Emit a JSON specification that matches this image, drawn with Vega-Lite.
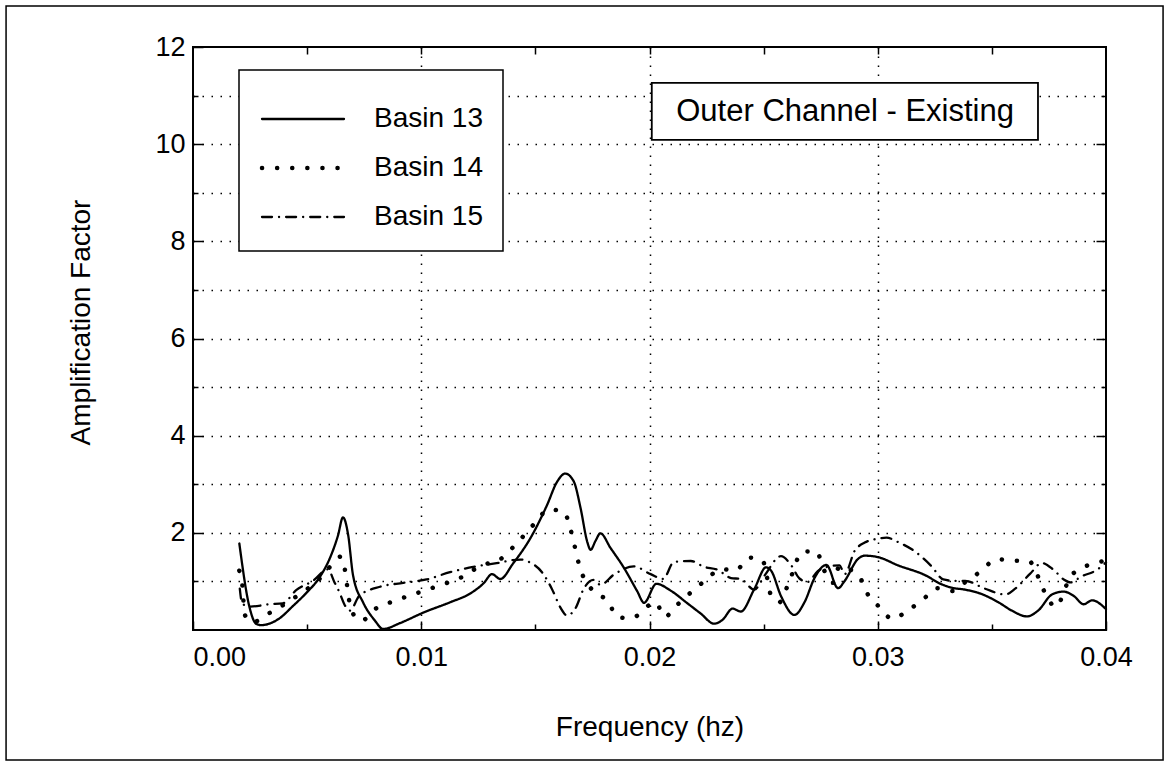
{
  "$schema": "https://vega.github.io/schema/vega-lite/v6.json",
  "width": 913,
  "height": 583,
  "autosize": "none",
  "padding": {"left": 193, "top": 47, "right": 70, "bottom": 144},
  "background": "white",
  "config": {
    "font": "Liberation Sans",
    "view": {"stroke": "black", "strokeWidth": 2},
    "legend": {"strokeWidth": 1.5}
  },
  "datasets": {
    "curves": [
      {"series": "Basin 13", "f": 0.00203, "v": 1.78},
      {"series": "Basin 13", "f": 0.00247, "v": 0.48},
      {"series": "Basin 13", "f": 0.00276, "v": 0.13},
      {"series": "Basin 13", "f": 0.00298, "v": 0.10},
      {"series": "Basin 13", "f": 0.00379, "v": 0.24},
      {"series": "Basin 13", "f": 0.00437, "v": 0.49},
      {"series": "Basin 13", "f": 0.00496, "v": 0.76},
      {"series": "Basin 13", "f": 0.00554, "v": 1.08},
      {"series": "Basin 13", "f": 0.00598, "v": 1.46},
      {"series": "Basin 13", "f": 0.00635, "v": 1.94},
      {"series": "Basin 13", "f": 0.00657, "v": 2.32},
      {"series": "Basin 13", "f": 0.0068, "v": 1.95},
      {"series": "Basin 13", "f": 0.00701, "v": 1.13},
      {"series": "Basin 13", "f": 0.00745, "v": 0.57},
      {"series": "Basin 13", "f": 0.00796, "v": 0.20},
      {"series": "Basin 13", "f": 0.00833, "v": 0.02},
      {"series": "Basin 13", "f": 0.00906, "v": 0.14},
      {"series": "Basin 13", "f": 0.0101, "v": 0.36},
      {"series": "Basin 13", "f": 0.01126, "v": 0.57},
      {"series": "Basin 13", "f": 0.01214, "v": 0.75},
      {"series": "Basin 13", "f": 0.01273, "v": 0.96},
      {"series": "Basin 13", "f": 0.0131, "v": 1.15},
      {"series": "Basin 13", "f": 0.01346, "v": 1.05},
      {"series": "Basin 13", "f": 0.01404, "v": 1.38},
      {"series": "Basin 13", "f": 0.01477, "v": 1.88},
      {"series": "Basin 13", "f": 0.01551, "v": 2.57},
      {"series": "Basin 13", "f": 0.01595, "v": 3.05},
      {"series": "Basin 13", "f": 0.01631, "v": 3.22},
      {"series": "Basin 13", "f": 0.01668, "v": 3.06},
      {"series": "Basin 13", "f": 0.01698, "v": 2.51},
      {"series": "Basin 13", "f": 0.01727, "v": 1.82},
      {"series": "Basin 13", "f": 0.01742, "v": 1.65},
      {"series": "Basin 13", "f": 0.01763, "v": 1.83},
      {"series": "Basin 13", "f": 0.01785, "v": 1.99},
      {"series": "Basin 13", "f": 0.01829, "v": 1.69},
      {"series": "Basin 13", "f": 0.01888, "v": 1.28},
      {"series": "Basin 13", "f": 0.01946, "v": 0.80},
      {"series": "Basin 13", "f": 0.01976, "v": 0.56},
      {"series": "Basin 13", "f": 0.0203, "v": 0.95},
      {"series": "Basin 13", "f": 0.02093, "v": 0.81},
      {"series": "Basin 13", "f": 0.02166, "v": 0.55},
      {"series": "Basin 13", "f": 0.02224, "v": 0.34},
      {"series": "Basin 13", "f": 0.02283, "v": 0.13},
      {"series": "Basin 13", "f": 0.0232, "v": 0.21},
      {"series": "Basin 13", "f": 0.02364, "v": 0.44},
      {"series": "Basin 13", "f": 0.024, "v": 0.38},
      {"series": "Basin 13", "f": 0.02459, "v": 0.84},
      {"series": "Basin 13", "f": 0.02511, "v": 1.29},
      {"series": "Basin 13", "f": 0.02533, "v": 1.22},
      {"series": "Basin 13", "f": 0.02576, "v": 0.70},
      {"series": "Basin 13", "f": 0.02635, "v": 0.31},
      {"series": "Basin 13", "f": 0.0268, "v": 0.58},
      {"series": "Basin 13", "f": 0.02723, "v": 1.07},
      {"series": "Basin 13", "f": 0.02775, "v": 1.34},
      {"series": "Basin 13", "f": 0.02826, "v": 0.86},
      {"series": "Basin 13", "f": 0.02855, "v": 1.01},
      {"series": "Basin 13", "f": 0.02913, "v": 1.46},
      {"series": "Basin 13", "f": 0.02943, "v": 1.53},
      {"series": "Basin 13", "f": 0.03001, "v": 1.50},
      {"series": "Basin 13", "f": 0.03089, "v": 1.33},
      {"series": "Basin 13", "f": 0.03207, "v": 1.13},
      {"series": "Basin 13", "f": 0.0328, "v": 0.94},
      {"series": "Basin 13", "f": 0.03324, "v": 0.87},
      {"series": "Basin 13", "f": 0.03383, "v": 0.83},
      {"series": "Basin 13", "f": 0.03455, "v": 0.74},
      {"series": "Basin 13", "f": 0.03529, "v": 0.57},
      {"series": "Basin 13", "f": 0.03587, "v": 0.40},
      {"series": "Basin 13", "f": 0.03654, "v": 0.28},
      {"series": "Basin 13", "f": 0.03705, "v": 0.41},
      {"series": "Basin 13", "f": 0.03763, "v": 0.73},
      {"series": "Basin 13", "f": 0.03815, "v": 0.79},
      {"series": "Basin 13", "f": 0.03859, "v": 0.70},
      {"series": "Basin 13", "f": 0.03902, "v": 0.53},
      {"series": "Basin 13", "f": 0.03939, "v": 0.61},
      {"series": "Basin 13", "f": 0.04, "v": 0.43},

      {"series": "Basin 14", "f": 0.00203, "v": 1.22},
      {"series": "Basin 14", "f": 0.00218, "v": 0.84},
      {"series": "Basin 14", "f": 0.00225, "v": 0.33},
      {"series": "Basin 14", "f": 0.00261, "v": 0.16},
      {"series": "Basin 14", "f": 0.00335, "v": 0.35},
      {"series": "Basin 14", "f": 0.00407, "v": 0.55},
      {"series": "Basin 14", "f": 0.00481, "v": 0.78},
      {"series": "Basin 14", "f": 0.00554, "v": 1.05},
      {"series": "Basin 14", "f": 0.00598, "v": 1.29},
      {"series": "Basin 14", "f": 0.00647, "v": 1.51},
      {"series": "Basin 14", "f": 0.00669, "v": 1.14},
      {"series": "Basin 14", "f": 0.00679, "v": 0.77},
      {"series": "Basin 14", "f": 0.00694, "v": 0.40},
      {"series": "Basin 14", "f": 0.00737, "v": 0.19},
      {"series": "Basin 14", "f": 0.00804, "v": 0.45},
      {"series": "Basin 14", "f": 0.00884, "v": 0.60},
      {"series": "Basin 14", "f": 0.00962, "v": 0.73},
      {"series": "Basin 14", "f": 0.01038, "v": 0.85},
      {"series": "Basin 14", "f": 0.01119, "v": 0.98},
      {"series": "Basin 14", "f": 0.01192, "v": 1.12},
      {"series": "Basin 14", "f": 0.01266, "v": 1.34},
      {"series": "Basin 14", "f": 0.01331, "v": 1.41},
      {"series": "Basin 14", "f": 0.01393, "v": 1.66},
      {"series": "Basin 14", "f": 0.01449, "v": 1.94},
      {"series": "Basin 14", "f": 0.01502, "v": 2.22},
      {"series": "Basin 14", "f": 0.01558, "v": 2.48},
      {"series": "Basin 14", "f": 0.01624, "v": 2.44},
      {"series": "Basin 14", "f": 0.01653, "v": 2.09},
      {"series": "Basin 14", "f": 0.01672, "v": 1.73},
      {"series": "Basin 14", "f": 0.0169, "v": 1.37},
      {"series": "Basin 14", "f": 0.01755, "v": 0.79},
      {"series": "Basin 14", "f": 0.01819, "v": 0.59},
      {"series": "Basin 14", "f": 0.01858, "v": 0.27},
      {"series": "Basin 14", "f": 0.01917, "v": 0.24},
      {"series": "Basin 14", "f": 0.02027, "v": 0.57},
      {"series": "Basin 14", "f": 0.02066, "v": 0.27},
      {"series": "Basin 14", "f": 0.02122, "v": 0.52},
      {"series": "Basin 14", "f": 0.02188, "v": 0.80},
      {"series": "Basin 14", "f": 0.02247, "v": 1.03},
      {"series": "Basin 14", "f": 0.02313, "v": 1.25},
      {"series": "Basin 14", "f": 0.02378, "v": 1.23},
      {"series": "Basin 14", "f": 0.02437, "v": 1.49},
      {"series": "Basin 14", "f": 0.02496, "v": 1.43},
      {"series": "Basin 14", "f": 0.02515, "v": 1.08},
      {"series": "Basin 14", "f": 0.02533, "v": 0.70},
      {"series": "Basin 14", "f": 0.02569, "v": 0.57},
      {"series": "Basin 14", "f": 0.02606, "v": 0.92},
      {"series": "Basin 14", "f": 0.02671, "v": 1.61},
      {"series": "Basin 14", "f": 0.0273, "v": 1.62},
      {"series": "Basin 14", "f": 0.02767, "v": 1.21},
      {"series": "Basin 14", "f": 0.02804, "v": 0.97},
      {"series": "Basin 14", "f": 0.02832, "v": 1.31},
      {"series": "Basin 14", "f": 0.02921, "v": 1.08},
      {"series": "Basin 14", "f": 0.02957, "v": 0.73},
      {"series": "Basin 14", "f": 0.03008, "v": 0.47},
      {"series": "Basin 14", "f": 0.03063, "v": 0.23},
      {"series": "Basin 14", "f": 0.03133, "v": 0.41},
      {"series": "Basin 14", "f": 0.03199, "v": 0.63},
      {"series": "Basin 14", "f": 0.03258, "v": 0.86},
      {"series": "Basin 14", "f": 0.03324, "v": 0.80},
      {"series": "Basin 14", "f": 0.0339, "v": 1.01},
      {"series": "Basin 14", "f": 0.03455, "v": 1.22},
      {"series": "Basin 14", "f": 0.03519, "v": 1.46},
      {"series": "Basin 14", "f": 0.03587, "v": 1.43},
      {"series": "Basin 14", "f": 0.03661, "v": 1.42},
      {"series": "Basin 14", "f": 0.03734, "v": 0.76},
      {"series": "Basin 14", "f": 0.03778, "v": 0.47},
      {"series": "Basin 14", "f": 0.03852, "v": 1.15},
      {"series": "Basin 14", "f": 0.04, "v": 1.43},

      {"series": "Basin 15", "f": 0.00205, "v": 0.85},
      {"series": "Basin 15", "f": 0.00215, "v": 0.55},
      {"series": "Basin 15", "f": 0.00246, "v": 0.48},
      {"series": "Basin 15", "f": 0.00335, "v": 0.53},
      {"series": "Basin 15", "f": 0.00394, "v": 0.55},
      {"series": "Basin 15", "f": 0.00452, "v": 0.82},
      {"series": "Basin 15", "f": 0.00525, "v": 1.01},
      {"series": "Basin 15", "f": 0.00591, "v": 1.25},
      {"series": "Basin 15", "f": 0.0062, "v": 0.98},
      {"series": "Basin 15", "f": 0.00642, "v": 0.77},
      {"series": "Basin 15", "f": 0.00665, "v": 0.51},
      {"series": "Basin 15", "f": 0.00687, "v": 0.40},
      {"series": "Basin 15", "f": 0.0073, "v": 0.71},
      {"series": "Basin 15", "f": 0.00819, "v": 0.89},
      {"series": "Basin 15", "f": 0.00921, "v": 0.97},
      {"series": "Basin 15", "f": 0.01023, "v": 1.04},
      {"series": "Basin 15", "f": 0.01126, "v": 1.19},
      {"series": "Basin 15", "f": 0.01228, "v": 1.30},
      {"series": "Basin 15", "f": 0.01323, "v": 1.37},
      {"series": "Basin 15", "f": 0.01434, "v": 1.45},
      {"series": "Basin 15", "f": 0.01477, "v": 1.39},
      {"series": "Basin 15", "f": 0.01529, "v": 1.19},
      {"series": "Basin 15", "f": 0.01573, "v": 0.84},
      {"series": "Basin 15", "f": 0.0161, "v": 0.46},
      {"series": "Basin 15", "f": 0.01638, "v": 0.30},
      {"series": "Basin 15", "f": 0.01675, "v": 0.44},
      {"series": "Basin 15", "f": 0.01712, "v": 0.85},
      {"series": "Basin 15", "f": 0.01755, "v": 1.03},
      {"series": "Basin 15", "f": 0.01785, "v": 0.93},
      {"series": "Basin 15", "f": 0.01844, "v": 1.14},
      {"series": "Basin 15", "f": 0.01931, "v": 1.31},
      {"series": "Basin 15", "f": 0.02005, "v": 1.15},
      {"series": "Basin 15", "f": 0.0206, "v": 1.05},
      {"series": "Basin 15", "f": 0.02107, "v": 1.40},
      {"series": "Basin 15", "f": 0.02181, "v": 1.42},
      {"series": "Basin 15", "f": 0.02239, "v": 1.30},
      {"series": "Basin 15", "f": 0.02298, "v": 1.24},
      {"series": "Basin 15", "f": 0.02357, "v": 1.07},
      {"series": "Basin 15", "f": 0.024, "v": 1.05},
      {"series": "Basin 15", "f": 0.02459, "v": 0.83},
      {"series": "Basin 15", "f": 0.02504, "v": 1.12},
      {"series": "Basin 15", "f": 0.02576, "v": 1.52},
      {"series": "Basin 15", "f": 0.02621, "v": 1.33},
      {"series": "Basin 15", "f": 0.02657, "v": 1.06},
      {"series": "Basin 15", "f": 0.02693, "v": 0.99},
      {"series": "Basin 15", "f": 0.02737, "v": 1.21},
      {"series": "Basin 15", "f": 0.02789, "v": 1.31},
      {"series": "Basin 15", "f": 0.02832, "v": 1.33},
      {"series": "Basin 15", "f": 0.02855, "v": 1.15},
      {"series": "Basin 15", "f": 0.02899, "v": 1.63},
      {"series": "Basin 15", "f": 0.02943, "v": 1.80},
      {"series": "Basin 15", "f": 0.03001, "v": 1.88},
      {"series": "Basin 15", "f": 0.03038, "v": 1.90},
      {"series": "Basin 15", "f": 0.03089, "v": 1.81},
      {"series": "Basin 15", "f": 0.03162, "v": 1.62},
      {"series": "Basin 15", "f": 0.03236, "v": 1.31},
      {"series": "Basin 15", "f": 0.03287, "v": 1.04},
      {"series": "Basin 15", "f": 0.03338, "v": 1.01},
      {"series": "Basin 15", "f": 0.03383, "v": 1.01},
      {"series": "Basin 15", "f": 0.0347, "v": 0.85},
      {"series": "Basin 15", "f": 0.03559, "v": 0.73},
      {"series": "Basin 15", "f": 0.03602, "v": 0.85},
      {"series": "Basin 15", "f": 0.03668, "v": 1.16},
      {"series": "Basin 15", "f": 0.03719, "v": 1.38},
      {"series": "Basin 15", "f": 0.0377, "v": 1.24},
      {"series": "Basin 15", "f": 0.03815, "v": 1.04},
      {"series": "Basin 15", "f": 0.03844, "v": 0.98},
      {"series": "Basin 15", "f": 0.03895, "v": 1.11},
      {"series": "Basin 15", "f": 0.03954, "v": 1.22},
      {"series": "Basin 15", "f": 0.04, "v": 1.39}
    ]
  },
  "layer": [
    {
      "data": {"name": "curves"},
      "mark": {"type": "point", "opacity": 0},
      "encoding": {
        "x": {
          "field": "f", "type": "quantitative",
          "scale": {"domain": [0, 0.04], "nice": false, "zero": false},
          "axis": {
            "orient": "bottom",
            "values": [0, 0.005, 0.01, 0.015, 0.02, 0.025, 0.03, 0.035, 0.04],
            "labelExpr": "abs(datum.value*100 - round(datum.value*100)) < 0.001 ? format(datum.value, '.2f') : ''",
            "domain": false,
            "grid": true,
            "gridColor": "black",
            "gridDash": [1.5, 7.5],
            "gridWidth": 1.5,
            "gridOpacity": {"condition": {"test": "abs(datum.value*100 - round(datum.value*100)) < 0.001 && datum.value > 0.001 && datum.value < 0.039", "value": 1}, "value": 0},
            "ticks": true,
            "tickColor": "black",
            "tickWidth": 1.5,
            "tickSize": {"condition": {"test": "abs(datum.value*100 - round(datum.value*100)) < 0.001", "value": -9}, "value": -6},
            "labelFontSize": 27,
            "labelColor": "black",
            "labelPadding": 23,
            "labelAlign": {"condition": {"test": "datum.value == 0", "value": "left"}, "value": "center"},
            "title": "Frequency (hz)",
            "titleFontSize": 28,
            "titleFontWeight": "normal",
            "titleColor": "black",
            "titleY": 105,
            "titleBaseline": "alphabetic"
          }
        },
        "y": {
          "field": "v", "type": "quantitative",
          "scale": {"domain": [0, 12], "nice": false},
          "axis": {
            "orient": "left",
            "values": [1, 2, 3, 4, 5, 6, 7, 8, 9, 10, 11, 12],
            "labelExpr": "datum.value % 2 == 0 ? datum.label : ''",
            "domain": false,
            "grid": true,
            "gridColor": "black",
            "gridDash": [1.5, 7.5],
            "gridWidth": 1.5,
            "gridOpacity": {"condition": {"test": "datum.value < 11.5", "value": 1}, "value": 0},
            "tickColor": "black",
            "tickWidth": 1.5,
            "tickSize": {"condition": {"test": "datum.value % 2 == 0", "value": -10}, "value": -5},
            "labelFontSize": 27,
            "labelColor": "black",
            "labelPadding": 18,
            "title": "Amplification Factor",
            "titleFontSize": 28,
            "titleFontWeight": "normal",
            "titleColor": "black",
            "titleX": -112,
            "titleY": 275,
            "titleAlign": "center",
            "titleBaseline": "middle",
            "titleAngle": 270
          }
        }
      }
    },
    {
      "data": {"name": "curves"},
      "mark": {"type": "point", "opacity": 0},
      "encoding": {
        "x": {
          "field": "f", "type": "quantitative",
          "axis": {
            "orient": "top",
            "values": [0.005, 0.01, 0.015, 0.02, 0.025, 0.03, 0.035],
            "labels": false, "domain": false, "grid": false, "title": null,
            "tickColor": "black", "tickWidth": 1.5, "tickSize": -7
          }
        },
        "y": {
          "field": "v", "type": "quantitative",
          "axis": {
            "orient": "right",
            "values": [1, 2, 3, 4, 5, 6, 7, 8, 9, 10, 11],
            "labels": false, "domain": false, "grid": false, "title": null,
            "tickColor": "black", "tickWidth": 1.5,
            "tickSize": {"condition": {"test": "datum.value % 2 == 0", "value": -10}, "value": -5}
          }
        }
      }
    },
    {
      "data": {"name": "curves"},
      "mark": {
        "type": "line",
        "color": "black",
        "strokeCap": "round",
        "strokeJoin": "round",
        "interpolate": "monotone",
        "strokeWidth": {"expr": "datum.series == 'Basin 14' ? 4.5 : 2.3"}
      },
      "encoding": {
        "x": {"field": "f", "type": "quantitative", "axis": null},
        "y": {"field": "v", "type": "quantitative", "axis": null},
        "detail": {"field": "series", "type": "nominal"},
        "strokeDash": {
          "field": "series", "type": "nominal",
          "scale": {"domain": ["Basin 13", "Basin 14", "Basin 15"], "range": [[1, 0], [0.1, 15], [10, 7, 0.1, 7]]},
          "legend": {
            "title": " ",
            "titleFontSize": 8,
            "titlePadding": 7,
            "orient": "none",
            "legendX": 46,
            "legendY": 23,
            "padding": 20,
            "strokeColor": "black",
            "fillColor": "white",
            "symbolType": "stroke",
            "symbolSize": 6724,
            "symbolOffset": 30,
            "symbolStrokeColor": "black",
            "labelFontSize": 28,
            "labelColor": "black",
            "labelOffset": 57,
            "rowPadding": 21,
            "labelLimit": 400,
            "encode": {
              "symbols": {
                "update": {
                  "strokeWidth": {"signal": "datum.value == 'Basin 14' ? 4.5 : 2.3"},
                  "strokeCap": {"value": "round"}
                }
              }
            }
          }
        }
      }
    },
    {
      "data": {"values": [{"label": "Outer Channel - Existing"}]},
      "mark": {"type": "rect", "fill": "white", "stroke": "black", "strokeWidth": 1.8},
      "encoding": {
        "x": {"datum": 0.0201, "type": "quantitative", "axis": null},
        "x2": {"datum": 0.03702},
        "y": {"datum": 11.26, "type": "quantitative", "axis": null},
        "y2": {"datum": 10.09}
      }
    },
    {
      "data": {"values": [{"label": "Outer Channel - Existing"}]},
      "mark": {"type": "text", "fontSize": 31, "color": "black", "align": "center", "baseline": "middle", "font": "Liberation Sans"},
      "encoding": {
        "x": {"datum": 0.02857, "type": "quantitative", "axis": null},
        "y": {"datum": 10.66, "type": "quantitative", "axis": null},
        "text": {"field": "label", "type": "nominal"}
      }
    },
    {
      "data": {"values": [{"label": "frame"}]},
      "mark": {"type": "rect", "filled": false, "stroke": "black", "strokeWidth": 1.5, "clip": false},
      "encoding": {
        "x": {"datum": -0.00819, "type": "quantitative", "axis": null},
        "x2": {"datum": 0.0425},
        "y": {"datum": 12.844, "type": "quantitative", "axis": null},
        "y2": {"datum": -2.676}
      }
    }
  ],
  "resolve": {"axis": {"x": "independent", "y": "independent"}}
}
